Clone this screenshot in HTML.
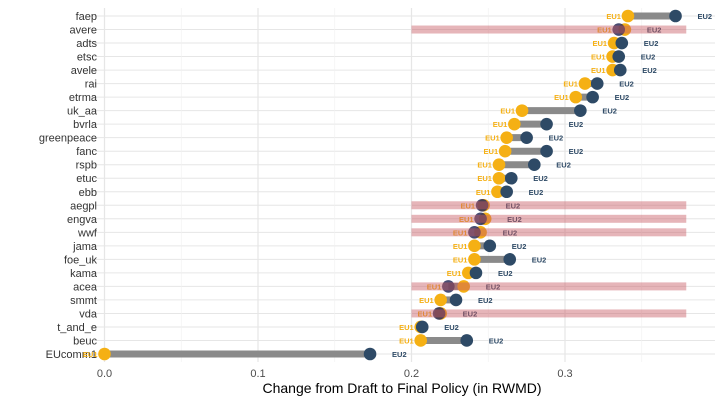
<!DOCTYPE html>
<html><head><meta charset="utf-8"><style>
body{margin:0;background:#fff;}
svg{display:block;font-family:"Liberation Sans",sans-serif;}
</style></head><body>
<svg id="chart" width="723" height="404"></svg>
<script>
const categories=["faep","avere","adts","etsc","avele","rai","etrma","uk_aa","bvrla","greenpeace","fanc","rspb","etuc","ebb","aegpl","engva","wwf","jama","foe_uk","kama","acea","smmt","vda","t_and_e","beuc","EUcomm1"];
const eu1=[0.341,0.339,0.332,0.331,0.331,0.313,0.307,0.272,0.267,0.262,0.261,0.257,0.257,0.256,0.247,0.248,0.245,0.241,0.241,0.237,0.234,0.219,0.219,0.206,0.206,0.0];
const eu2=[0.372,0.335,0.337,0.335,0.336,0.321,0.318,0.310,0.288,0.275,0.288,0.280,0.265,0.262,0.246,0.245,0.241,0.251,0.264,0.242,0.224,0.229,0.218,0.207,0.236,0.173];
const xTicks=[0,0.1,0.2,0.3];
const xTickLabels=["0.0","0.1","0.2","0.3"];
const bandStart=0.2, bandEnd=0.379;

const NS="http://www.w3.org/2000/svg";
const svg=document.getElementById("chart");
const x=v=>104.5+v*1535;
const y=i=>16+i*13.52;
function mk(t,a,p){const e=document.createElementNS(NS,t);for(const k in a)e.setAttribute(k,a[k]);(p||svg).appendChild(e);return e;}
const L=90,R=715,T=8,B=362;
for(let i=0;i<categories.length;i++){
 const g=mk("line",{x1:L,x2:R,y1:y(i),y2:y(i),stroke:"#e6e6e6","stroke-width":1});
 
 
}
[0.05,0.15,0.25,0.35].forEach(v=>{
 const g=mk("line",{x1:x(v),x2:x(v),y1:T,y2:B,stroke:"#f0f0f0","stroke-width":0.6});
 
 
});
xTicks.forEach((v,k)=>{
 const g=mk("line",{x1:x(v),x2:x(v),y1:T,y2:B,stroke:"#e6e6e6","stroke-width":1.2});
 
 
 const t=mk("text",{x:x(v),y:377,"text-anchor":"middle","font-size":11,fill:"#4d4d4d"});
 t.textContent=xTickLabels[k];
 
 
});
const title=mk("text",{x:402,y:393,"text-anchor":"middle","font-size":14,fill:"#000"});
title.textContent="Change from Draft to Final Policy (in RWMD)";



categories.forEach((c,i)=>{
 const cy=y(i);
 const red=eu1[i]>eu2[i];
 const lab=mk("text",{x:97,y:cy+4,"text-anchor":"end","font-size":11,fill:"#333"});
 lab.textContent=c;
 
 
 const seg=mk("line",{x1:x(eu1[i]),x2:x(eu2[i]),y1:cy,y2:cy,stroke:"#8a8a8a","stroke-width":7});
 
 
 const p1=mk("circle",{cx:x(eu1[i]),cy:cy,r:6.3,fill:"#f5b014"});
 
 
 const p2=mk("circle",{cx:x(eu2[i]),cy:cy,r:6.3,fill:red?"rgba(40,45,90,0.85)":"#2e4a66"});
 
 
 const mn=Math.min(eu1[i],eu2[i]),mx=Math.max(eu1[i],eu2[i]);
 const t1=mk("text",{x:x(mn)-7,y:cy+3,"text-anchor":"end","font-size":7.5,"font-weight":"bold",fill:"#f5b014"});
 t1.textContent="EU1";
 
 
 const t2=mk("text",{x:x(mx)+22,y:cy+3,"font-size":7.5,"font-weight":"bold",fill:"#2e4a66"});
 t2.textContent="EU2";
 
 
 if(red){
  const b=mk("rect",{x:x(bandStart),y:cy-4,width:x(bandEnd)-x(bandStart),height:8,fill:"rgba(200,90,100,0.45)"});
  
  
 }
});
</script>
</body></html>
